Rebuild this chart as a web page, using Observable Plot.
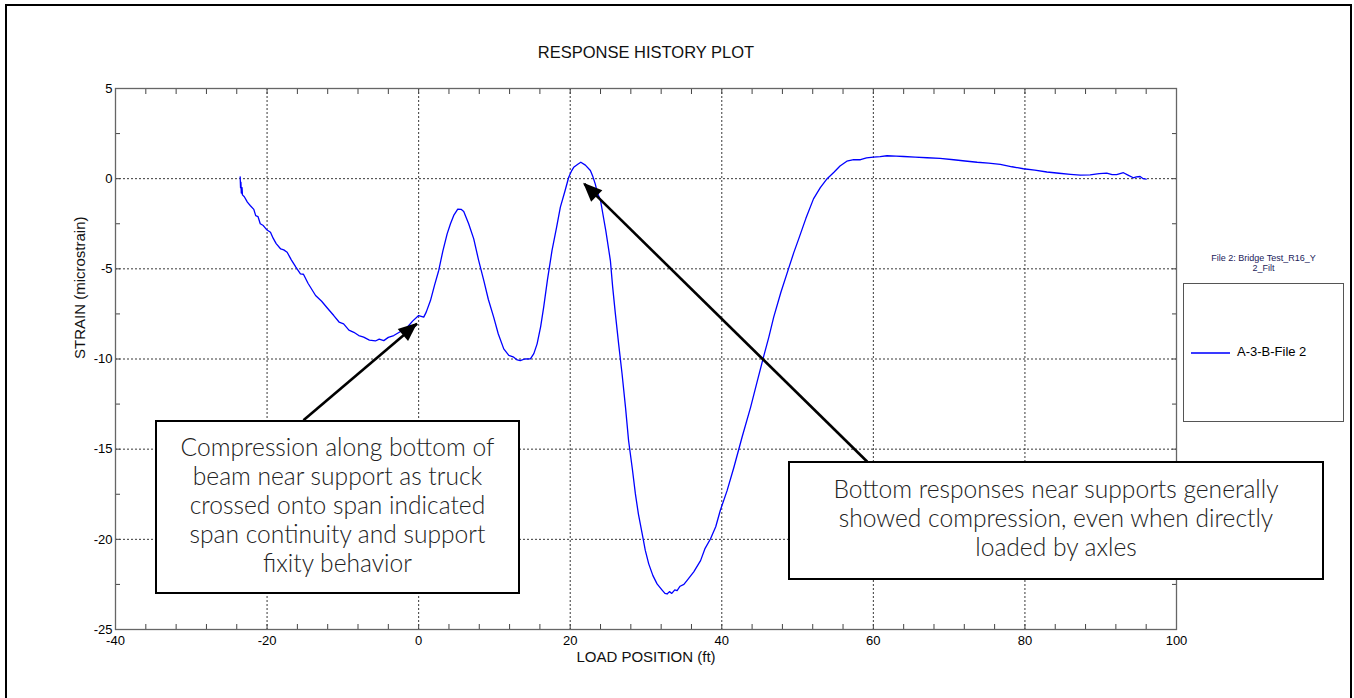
<!DOCTYPE html>
<html>
<head>
<meta charset="utf-8">
<script src="https://cdn.jsdelivr.net/npm/d3@7"></script>
<script src="https://cdn.jsdelivr.net/npm/@observablehq/plot@0.6"></script>
<style>
  html, body { margin: 0; padding: 0; background: #fff; overflow: hidden; }
  #wrap { position: relative; width: 1354px; height: 698px; font-family: "Liberation Sans", Arial, sans-serif; }
  #chart { position: absolute; left: 0; top: 0; }
  .outer { position: absolute; left: 5px; top: 4px; width: 1347px; height: 760px; border: 2px solid #000; box-sizing: border-box; pointer-events: none; }
  .note { position: absolute; box-sizing: border-box; border: 2px solid #000; background: #fff; padding-bottom: 6px;
          display: flex; align-items: center; justify-content: center; text-align: center;
          font-family: "Lato", "Open Sans", sans-serif; font-weight: 300; font-size: 24.6px; line-height: 29px; color: #222; }
  .legtitle { position: absolute; left: 1183px; width: 161px; top: 253px; text-align: center; font-size: 9px; line-height: 10px; color: #22225a; }
  .legbox { position: absolute; left: 1183px; top: 283px; width: 161px; height: 139px; box-sizing: border-box; border: 1.3px solid #555; background: #fff; }
  .legline { position: absolute; left: 7px; top: 68px; width: 39px; height: 0; border-top: 2px solid #3a3aff; }
  .leglabel { position: absolute; left: 53px; top: 60px; font-size: 13px; color: #000; white-space: nowrap; }
</style>
</head>
<body>
<div id="wrap">
  <div id="chart"></div>
  <div class="note" style="left:155px; top:420px; width:365px; height:174px;">
    <div>Compression along bottom of<br>beam near support as truck<br>crossed onto span indicated<br>span continuity and support<br>fixity behavior</div>
  </div>
  <div class="note" style="left:788px; top:461px; width:536px; height:119px;">
    <div>Bottom responses near supports generally<br>showed compression, even when directly<br>loaded by axles</div>
  </div>
  <div class="legtitle">File 2: Bridge Test_R16_Y<br>2_Filt</div>
  <div class="legbox">
    <div class="legline"></div>
    <div class="leglabel" id="leglabel"></div>
  </div>
  <div class="outer"></div>
</div>
<script>
// ---- Data ----
const chartTitle = "RESPONSE HISTORY PLOT";
const xLabel = "LOAD POSITION (ft)";
const yLabel = "STRAIN (microstrain)";
const seriesName = "A-3-B-File 2";

const xMajorTicks = [-40, -20, 0, 20, 40, 60, 80, 100];
const yMajorTicks = [-25, -20, -15, -10, -5, 0, 5];
const xMinorTicks = d3.range(-40, 100.1, 4);
const yMinorTicks = d3.range(-25, 5.1, 2.5);

const loadPosition = [
  -23.55, -23.5, -23.45, -23.4, -23.3, -23.25, -23.0, -22.6, -22.2, -21.75, -21.5, -21.2, -20.9, -20.5, -20.0,
  -19.55, -19.2, -18.8, -18.2, -17.8, -17.35, -16.8, -16.2, -15.6, -15.2, -14.6, -13.6, -12.8, -12.0, -11.2,
  -10.5, -9.9, -9.2, -8.55, -7.9, -7.25, -6.5, -5.7, -5.2, -4.6, -4.0, -3.28, -2.5, -1.5, -0.8,
  0.0, 0.67, 1.0, 1.56, 2.1, 2.65, 3.2, 3.76, 4.2, 4.63, 5.16, 5.6, 5.95, 6.6, 7.27,
  7.9, 8.6, 9.2, 9.9, 10.5, 11.23, 11.9, 12.55, 13.0, 13.4, 14.0, 14.75, 15.2, 15.63, 16.1,
  16.5, 17.0, 17.6, 18.2, 18.7, 19.3, 19.8, 20.2, 20.46, 21.0, 21.4, 22.0, 22.66, 23.0, 23.3,
  23.6, 24.0, 24.7, 25.3, 25.6, 25.96, 26.4, 26.84, 27.3, 27.7, 28.2, 28.6, 29.0, 29.5, 29.9,
  30.36, 30.9, 31.46, 32.1, 32.5, 32.78, 33.1, 33.4, 33.8, 34.1, 34.5, 35.0, 35.4, 36.3, 37.2,
  37.8, 38.5, 39.2, 39.8, 40.7, 41.6, 42.7, 43.8, 44.7, 45.5, 46.2, 46.85, 47.8, 48.8, 49.5,
  50.15, 51.1, 52.1, 53.0, 53.9, 54.8, 55.6, 56.5, 57.4, 58.3, 59.1, 60.0, 60.9, 61.8, 63.0,
  64.0, 65.5, 67.1, 68.8, 70.6, 72.1, 73.7, 75.2, 76.75, 78.3, 79.8, 81.3, 82.9, 84.5, 86.0,
  87.3, 88.6, 89.8, 90.8, 91.5, 92.1, 93.0, 93.6, 94.3, 94.7, 95.2, 95.6, 96.0
];
const strain = [
  0.1, -0.5, -0.2, -0.8, -0.5, -0.9, -1.0, -1.3, -1.5, -1.7, -2.05, -2.1, -2.5, -2.6, -2.85,
  -2.97, -3.3, -3.6, -3.9, -3.95, -4.08, -4.5, -4.9, -5.28, -5.3, -5.8, -6.48, -6.8, -7.2, -7.59,
  -7.95, -8.05, -8.4, -8.52, -8.7, -8.79, -8.95, -9.0, -8.9, -8.98, -8.8, -8.7, -8.5, -8.24, -7.9,
  -7.59, -7.68, -7.4, -6.76, -5.9, -5.09, -4.0, -3.06, -2.5, -2.04, -1.69, -1.7, -1.82, -2.5, -3.34,
  -4.5, -5.65, -6.7, -7.68, -8.6, -9.44, -9.8, -9.9, -10.05, -10.09, -10.0, -9.99, -9.7, -9.16, -8.2,
  -7.12, -5.6, -3.98, -2.7, -1.58, -0.7, 0.08, 0.45, 0.63, 0.8, 0.91, 0.75, 0.45, 0.1, -0.29,
  -0.8, -1.21, -2.9, -4.54, -6.0, -7.5, -9.2, -10.82, -12.7, -14.52, -16.1, -17.48, -18.6, -19.7, -20.6,
  -21.36, -22.0, -22.47, -22.8, -23.0, -23.03, -22.9, -23.0, -22.8, -22.84, -22.6, -22.5, -22.29, -21.8, -21.18,
  -20.5, -19.98, -19.3, -18.4, -17.3, -16.0, -14.3, -12.68, -11.2, -9.9, -8.8, -7.68, -6.3, -5.0, -4.1,
  -3.34, -2.2, -1.12, -0.5, 0.0, 0.36, 0.7, 0.97, 1.05, 1.05, 1.15, 1.19, 1.22, 1.27, 1.25,
  1.23, 1.2, 1.16, 1.12, 1.05, 0.98, 0.91, 0.86, 0.79, 0.66, 0.55, 0.47, 0.37, 0.3, 0.24,
  0.2, 0.21, 0.28, 0.31, 0.22, 0.22, 0.33, 0.2, 0.05, 0.1, 0.12, 0.0, -0.03
];

// annotation arrows (data coordinates): tail -> tip
const arrowTailX = [-15.2, 59.2];
const arrowTailY = [-13.4, -15.7];
const arrowTipX = [-0.2, 21.87];
const arrowTipY = [-8.05, -0.29];

// ---- Build ----
const series = loadPosition.map((x, i) => ({x, y: strain[i]}));
const arrows = arrowTailX.map((x1, i) => ({x1, y1: arrowTailY[i], x2: arrowTipX[i], y2: arrowTipY[i]}));
document.getElementById("leglabel").textContent = seriesName;

const gridStyle = {stroke: "#222", strokeOpacity: 0.9, strokeDasharray: "2,2", strokeWidth: 1};
const tickStyle = {stroke: "#444", tickFormat: () => "", label: null};
const plainFormat = d => String(d);

const chart = Plot.plot({
  width: 1354,
  height: 698,
  marginLeft: 115,
  marginRight: 178,
  marginTop: 88,
  marginBottom: 69,
  style: {fontFamily: "'Liberation Sans', Arial, sans-serif", background: "transparent", color: "#000"},
  x: {domain: [-40, 100]},
  y: {domain: [-25, 5]},
  marks: [
    Plot.gridX(xMajorTicks.slice(1, -1), gridStyle),
    Plot.gridY(yMajorTicks.slice(1, -1), gridStyle),
    // inward ticks on all four sides
    Plot.axisX(xMinorTicks, {anchor: "bottom", tickSize: 5, dy: -5, ...tickStyle}),
    Plot.axisX(xMinorTicks, {anchor: "top", tickSize: 5, dy: 5, ...tickStyle}),
    Plot.axisY(yMinorTicks, {anchor: "left", tickSize: 5, dx: 5, ...tickStyle}),
    Plot.axisY(yMinorTicks, {anchor: "right", tickSize: 5, dx: -5, ...tickStyle}),
    // tick labels
    Plot.axisX(xMajorTicks, {anchor: "bottom", tickSize: 0, tickPadding: 6, fontSize: 13, label: null, tickFormat: plainFormat}),
    Plot.axisY(yMajorTicks, {anchor: "left", tickSize: 0, tickPadding: 3, fontSize: 13, label: null, tickFormat: plainFormat}),
    Plot.frame({stroke: "#666", strokeWidth: 1.3}),
    Plot.line(series, {x: "x", y: "y", stroke: "#0000ff", strokeWidth: 1.3}),
    Plot.link(arrows, {x1: "x1", y1: "y1", x2: "x2", y2: "y2", stroke: "#000", strokeWidth: 2.6}),
    Plot.text([chartTitle], {frameAnchor: "top", dy: -42, fontSize: 16.5, fill: "#111"}),
    Plot.text([xLabel], {frameAnchor: "bottom", dy: 32, fontSize: 15, fill: "#111"}),
    Plot.text([yLabel], {frameAnchor: "left", dx: -35, rotate: -90, fontSize: 15, fill: "#111"})
  ]
});

// filled arrowheads placed through the plot's own scales
const sx = chart.scale("x"), sy = chart.scale("y");
const svg = d3.select(chart);
arrows.forEach(a => {
  const tx = sx.apply(a.x2), ty = sy.apply(a.y2);
  const bx = sx.apply(a.x1), by = sy.apply(a.y1);
  const dx = tx - bx, dy = ty - by, len = Math.hypot(dx, dy);
  const ux = dx / len, uy = dy / len;
  const L = 18, W = 8;
  const mx = tx - ux * L, my = ty - uy * L;
  const pts = [[tx + ux * 1, ty + uy * 1], [mx - uy * W, my + ux * W], [mx + uy * W, my - ux * W]];
  svg.append("polygon").attr("points", pts.map(p => p.join(",")).join(" ")).attr("fill", "#000");
});

document.getElementById("chart").appendChild(chart);
</script>
</body>
</html>
